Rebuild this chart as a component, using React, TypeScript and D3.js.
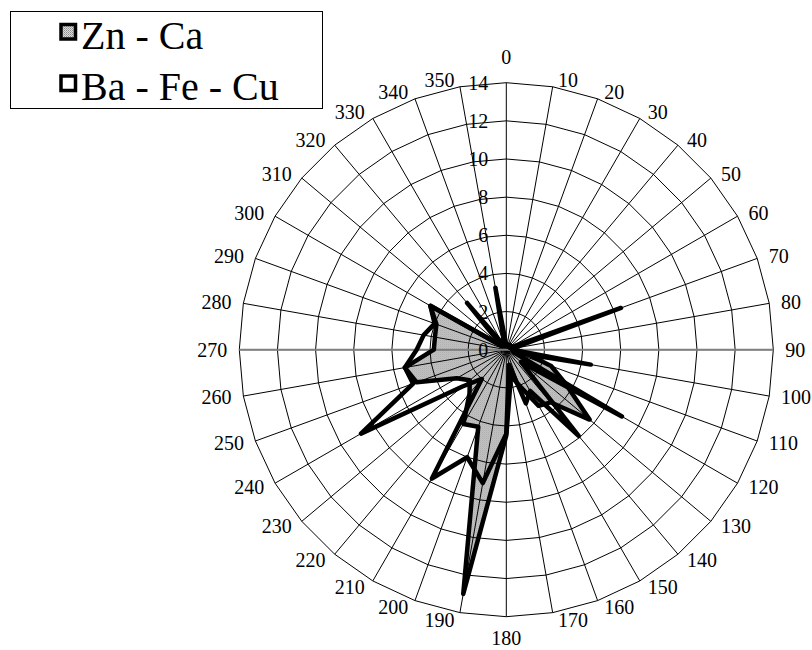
import React from "react";
import * as d3 from "d3";

const directions = [0, 10, 20, 30, 40, 50, 60, 70, 80, 90, 100, 110, 120, 130, 140, 150, 160, 170,
  180, 190, 200, 210, 220, 230, 240, 250, 260, 270, 280, 290, 300, 310, 320, 330, 340, 350];
const ringTicks = [0, 2, 4, 6, 8, 10, 12, 14];

const znCa = [0.3, 0.3, 0.3, 0.3, 0.3, 0.3, 0.3, 0.3, 0.4, 0.5, 1.0, 2.5, 3.6, 5.7, 3.6, 3.4, 2.0, 1.4,
  4.5, 13.0, 4.3, 4.5, 3.0, 2.5, 3.0, 5.0, 5.4, 3.8, 3.8, 3.9, 4.6, 0.3, 0.3, 0.3, 0.5, 0.3];
const baFeCu = [0.2, 0.2, 0.2, 0.2, 0.2, 0.2, 0.2, 6.4, 0.3, 0.3, 4.5, 0.4, 7.0, 1.0, 5.9, 2.5, 3.0, 0.8,
  4.4, 7.1, 6.0, 7.8, 2.0, 3.0, 8.8, 5.2, 5.4, 4.7, 4.4, 4.0, 4.6, 0.3, 3.2, 0.3, 0.3, 3.3];

const seriesNames = ["Zn - Ca", "Ba - Fe - Cu"];

const FONT = "'Liberation Serif', 'DejaVu Serif', 'Times New Roman', serif";

export default function App() {
  const W = 812, H = 650;
  const cx = 506.3, cy = 349.7, R = 267;
  const r = d3.scaleLinear().domain([0, 14]).range([0, R]);
  const a = d3.scaleLinear().domain([0, 360]).range([0, 2 * Math.PI]);

  const radial = d3.lineRadial<number>()
    .angle((_, i) => a(directions[i]))
    .radius((d) => r(d))
    .curve(d3.curveLinearClosed);

  const ringPath = (v: number) => radial(directions.map(() => v)) || "";

  const labelPos = (d: number) => {
    const s = Math.sin(a(d));
    const c = Math.cos(a(d));
    const ox = s * R;
    const oy = -c * R;
    if (Math.abs(s) < 0.01) {
      return { x: ox, y: oy - c * (c > 0 ? 26 : 21), anchor: "middle" };
    }
    return {
      x: ox + Math.sign(s) * (4 + 8 * Math.abs(s)),
      y: oy - 7 * c,
      anchor: s > 0 ? "start" : "end",
    };
  };

  const textStyle = { fontFamily: FONT };

  return (
    <svg width={W} height={H} style={{ position: "absolute", left: 0, top: 0, background: "#fff" }}>
      <defs>
        <pattern id="dither" width="2" height="2" patternUnits="userSpaceOnUse">
          <rect width="2" height="2" fill="#dcdcdc" />
          <rect x="0" y="0" width="1" height="1" fill="#8c8c8c" />
          <rect x="1" y="1" width="1" height="1" fill="#a8a8a8" />
        </pattern>
      </defs>
      <rect width={W} height={H} fill="#fff" />
      <g transform={`translate(${cx},${cy})`}>
        <path d={radial(znCa) || ""} fill="url(#dither)" stroke="none" />
        {ringTicks.filter((t) => t > 0).map((t) => (
          <path key={t} d={ringPath(t)} fill="none" stroke="#000" strokeWidth={1} />
        ))}
        {directions.map((d) => (
          <line key={d} x1={0} y1={0} x2={Math.sin(a(d)) * R} y2={-Math.cos(a(d)) * R}
            stroke="#000" strokeWidth={1} />
        ))}
        <line x1={-R} y1={0} x2={R} y2={0} stroke="#808080" strokeWidth={2} />
        {ringTicks.map((t) => (
          <text key={t} x={-18} y={-r(t)} textAnchor="end" dominantBaseline="central" fontSize={20}
            style={textStyle}>
            {t}
          </text>
        ))}
        {directions.map((d) => {
          const p = labelPos(d);
          return (
            <text key={d} x={p.x} y={p.y} textAnchor={p.anchor} dominantBaseline="central" fontSize={20}
              style={textStyle}>
              {d}
            </text>
          );
        })}
        <path d={radial(znCa) || ""} fill="none" stroke="#000" strokeWidth={4.5} strokeLinejoin="round" />
        <path d={radial(baFeCu) || ""} fill="none" stroke="#000" strokeWidth={4.5} strokeLinejoin="round" />
      </g>
      <g>
        <rect x={10.5} y={11.5} width={312} height={97} fill="#fff" stroke="#000" strokeWidth={1} />
        <rect x={61} y={24.5} width={14.5} height={14.5} fill="url(#dither)" stroke="#000" strokeWidth={3.5} />
        <text x={81} y={49} fontSize={40} style={textStyle}>{seriesNames[0]}</text>
        <rect x={61} y={76} width={14.5} height={14.5} fill="#fff" stroke="#000" strokeWidth={3.5} />
        <text x={81} y={100} fontSize={40} style={textStyle}>{seriesNames[1]}</text>
      </g>
    </svg>
  );
}
